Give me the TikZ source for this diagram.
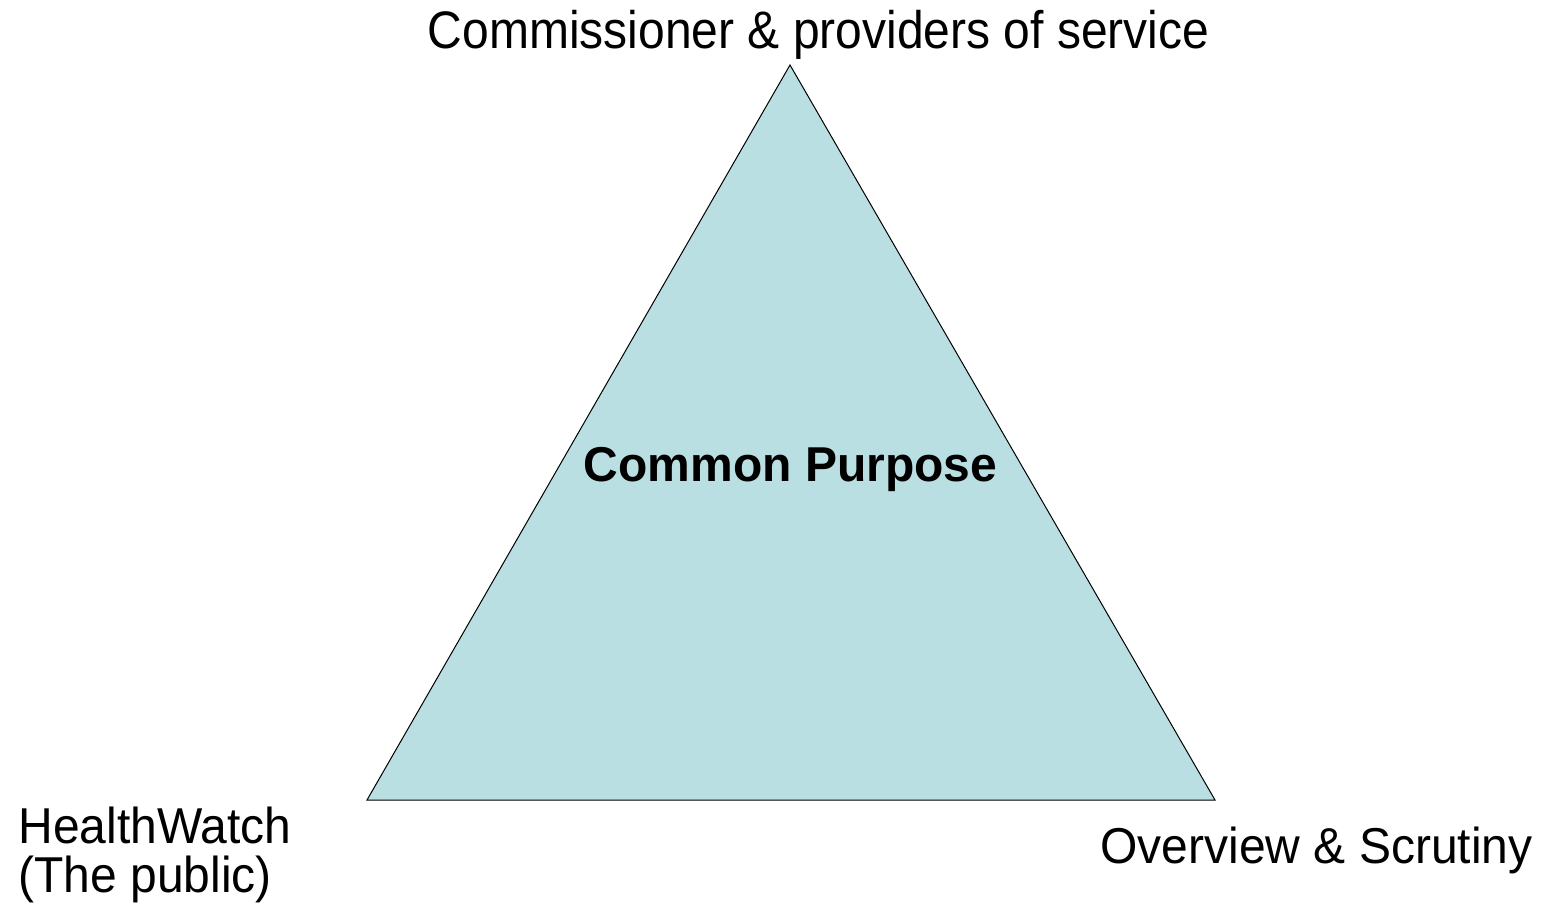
\documentclass[tikz,border=0pt]{standalone}
\usepackage{fontspec}
\setmainfont{Liberation Sans}
\usepackage{graphicx}
\definecolor{trifill}{HTML}{B9DFE3}
\begin{document}
\begin{tikzpicture}[x=0.5pt,y=0.5pt,
  lbl/.style={inner sep=0pt, font=\fontsize{24}{28}\selectfont}]
\useasboundingbox (0,0) rectangle (1543,907);
\coordinate (apex) at (790,842);
\coordinate (bl) at (367,107);
\coordinate (br) at (1215,107);
\filldraw[fill=trifill, draw=black, line width=0.5pt, line join=miter] (apex) -- (bl) -- (br) -- cycle;
\node[lbl, anchor=base] (top) at (818.5,858) {\scalebox{1}[1.1]{Commissioner \& providers of service}};
\node[lbl, anchor=base, font=\fontsize{24}{28}\selectfont\bfseries] (cp) at (790.5,426) {\scalebox{1}[1.02]{Common Purpose}};
\node[lbl, anchor=base west] (hw1) at (18,64) {\scalebox{1}[1.05]{HealthWatch}};
\node[lbl, anchor=base west] (hw2) at (18,15) {\scalebox{1}[1.05]{(The public)}};
\node[lbl, anchor=base west] (os) at (1100,44) {\scalebox{1}[1.05]{Overview \& Scrutiny}};
\end{tikzpicture}
\end{document}
